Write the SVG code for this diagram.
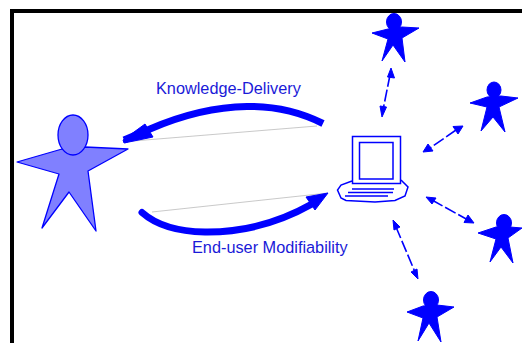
<svg xmlns="http://www.w3.org/2000/svg" width="522" height="343" viewBox="0 0 522 343">
<style>
.b{fill:#00f;stroke:#00f;stroke-width:1;stroke-linejoin:round}
.big{fill:#8080ff;stroke:#00f;stroke-width:1.300;stroke-linejoin:round}
.gray{fill:none;stroke:#bbb;stroke-width:.8}
.thick{fill:none;stroke:#00f;stroke-width:7;stroke-linejoin:round}
.dash{fill:none;stroke:#00f;stroke-width:1.600;stroke-dasharray:12 3}
.lap{fill:none;stroke:#00f;stroke-width:1.500}
text{font-family:"Liberation Sans",Arial,sans-serif;font-size:16.300px;fill:#1a1ad8}
</style>
<rect width="522" height="343" fill="#fff"/>
<g id="frame"><path d="M12 343V11H522" fill="none" stroke="#000" stroke-width="4"/></g>
<g id="person-main">
<path class="big" d="M17 162L62 149L85 147L128 149L88 171L96 231L69 192L42 228L59 174Z"/>
<ellipse class="big" cx="73" cy="135" rx="15" ry="20"/>
</g>
<g id="laptop">
<rect class="lap" x="352.500" y="136.500" width="48" height="47"/>
<rect class="lap" x="359.500" y="142.500" width="33.500" height="36.500"/>
<path class="lap" d="M352 181L341 185L337.500 190L341 198L346 200.500L375 202L395 200.500L405 196L408 187L401 180"/>
<path class="lap" d="M352 189H394M348 192.500H393M345 196H388"/>
</g>
<g id="person-1"><ellipse class="b" cx="394" cy="22" rx="7.500" ry="8.500"/><path class="b" d="M372 33L388 29L402 27L419 28L402 38L405 62L393 45L382 61L388 39Z"/></g>
<g id="person-2"><ellipse class="b" cx="494" cy="90" rx="7" ry="8"/><path class="b" d="M470 103L487 97L501 96L518 98L499 107L505 132L493 117L481 131L487 107Z"/></g>
<g id="person-3"><ellipse class="b" cx="504" cy="223" rx="7.500" ry="8.500"/><path class="b" d="M478 233L496 227L510 227L522 228L508 238L513 263L501 247L490 262L496 239Z"/></g>
<g id="person-4"><ellipse class="b" cx="431" cy="300" rx="7.500" ry="8.500"/><path class="b" d="M407 312L423 306L437 305L454 307L437 317L441 342L429 323L418 341L423 318Z"/></g>
<g id="connectors">
<path class="gray" d="M127 141.500L317 126"/>
<path class="gray" d="M152 212L328 193"/>
<path class="thick" d="M323 123.500C300 112 275 106 247 106.500C215 107 180 116 150 129L124 140" stroke-linecap="butt"/>
<path class="b" d="M145 124L153 137L124 143L123 140Z"/>
<path class="thick" d="M142 212.500C155 224 175 231.500 205 232C245 232.500 280 222 312 204" stroke-linecap="round"/>
<path class="b" d="M306 197L328 193L315 210Z"/>
<path class="dash" d="M390 75L383 110"/>
<path class="b" d="M391 68L394.500 78L387.500 77Z"/>
<path class="b" d="M382 117L380 106L386.500 107Z"/>
<path class="dash" d="M456 130L430 148"/>
<path class="b" d="M463 126L458 134L453 126.500Z"/>
<path class="b" d="M423 152L428 144L433 151Z"/>
<path class="dash" d="M432 200L468 220"/>
<path class="b" d="M426 197L436 198L432 204Z"/>
<path class="b" d="M474 223L464 222.500L468 215Z"/>
<path class="dash" d="M396 227L415 272"/>
<path class="b" d="M393 220L400 227L394 230Z"/>
<path class="b" d="M418 279L411 272L417 269Z"/>
</g>
<g id="labels">
<text x="156" y="94">Knowledge-Delivery</text>
<text x="192" y="253">End-user Modifiability</text>
</g>
</svg>
